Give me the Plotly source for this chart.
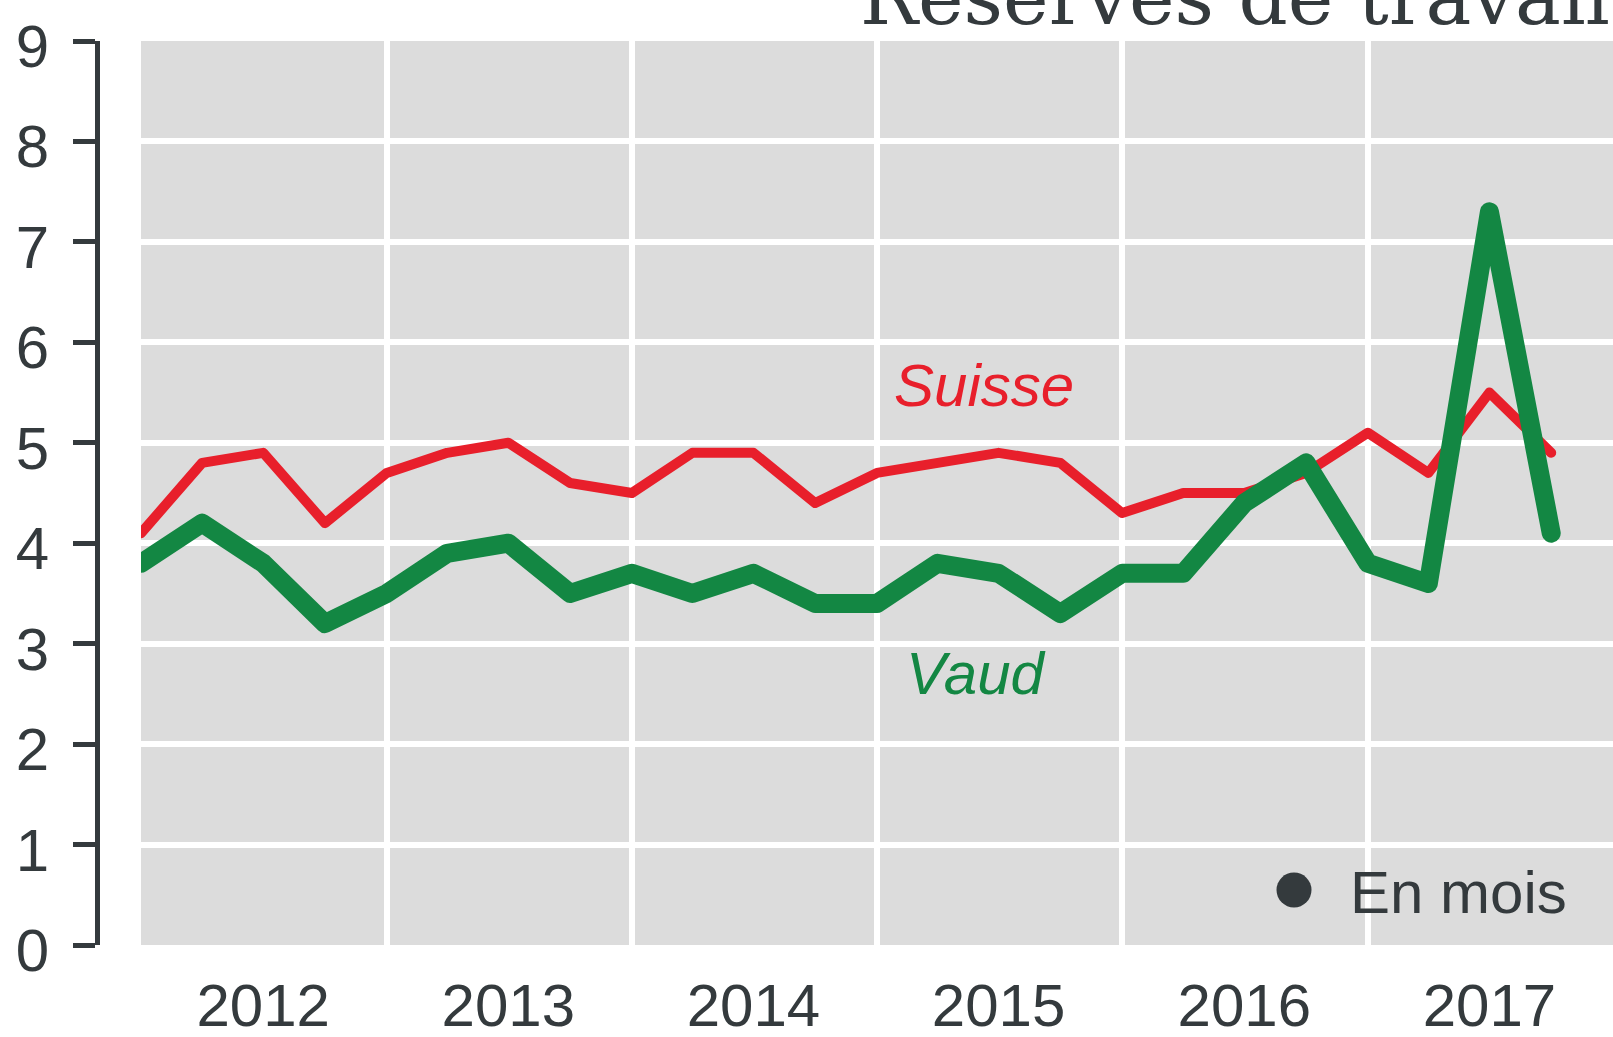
import plotly.graph_objects as go

# ---- data ----
quarters = [f"{y}-{m:02d}-01" for y in range(2012, 2018) for m in (1, 4, 7, 10)]
suisse = [4.1, 4.8, 4.9, 4.2, 4.7, 4.9, 5.0, 4.6, 4.5, 4.9, 4.9, 4.4,
          4.7, 4.8, 4.9, 4.8, 4.3, 4.5, 4.5, 4.7, 5.1, 4.7, 5.5, 4.9]
vaud = [3.8, 4.2, 3.8, 3.2, 3.5, 3.9, 4.0, 3.5, 3.7, 3.5, 3.7, 3.4,
        3.4, 3.8, 3.7, 3.3, 3.7, 3.7, 4.4, 4.8, 3.8, 3.6, 7.3, 4.1]
year_labels = ["2012", "2013", "2014", "2015", "2016", "2017"]
year_mid = [f"{y}-07-01" for y in year_labels]
year_bounds = [f"{y}-01-01" for y in ["2013", "2014", "2015", "2016", "2017"]]
y_ticks = list(range(0, 10))

W, H = 1613, 1037
ML, MR, MT, MB = 0, 0, 41, 92
PLOT_LEFT = 141
AXIS_X = 97
DARK = "#343a3d"
RED = "#e81f2b"
GREEN = "#138743"
PH = H - MT - MB

def px_x(p):
    return p / W

def px_y(p):
    return (H - MB - p) / PH

fig = go.Figure()
fig.add_trace(go.Scatter(x=quarters, y=suisse, mode="lines",
                         line=dict(color=RED, width=10), name="Suisse",
                         showlegend=False))
fig.add_trace(go.Scatter(x=quarters, y=vaud, mode="lines",
                         line=dict(color=GREEN, width=19), name="Vaud",
                         showlegend=False))

fig.update_layout(
    width=W, height=H,
    margin=dict(l=ML, r=MR, t=MT, b=MB, autoexpand=False),
    paper_bgcolor="white",
    plot_bgcolor="#dcdcdc",
    font=dict(family="Liberation Sans, Arial, sans-serif", color=DARK, size=60),
    xaxis=dict(
        type="date", automargin=False,
        domain=[px_x(PLOT_LEFT), 1],
        range=["2012-01-01", "2018-01-01"],
        tickmode="array", tickvals=year_mid, ticktext=year_labels,
        showgrid=False, showline=False, zeroline=False, ticks="",
        ticklabelstandoff=20,
        tickfont=dict(size=60, color=DARK),
        minor=dict(tickmode="array", tickvals=year_bounds, showgrid=True,
                   gridcolor="white", gridwidth=6, ticks=""),
    ),
    yaxis=dict(
        range=[0, 9], automargin=False,
        anchor="free", position=px_x(AXIS_X),
        tickmode="array", tickvals=y_ticks,
        showgrid=False, zeroline=False,
        showline=True, linecolor=DARK, linewidth=5,
        ticks="outside", ticklen=22, tickwidth=5, tickcolor=DARK,
        ticklabelstandoff=12, ticklabelshift=5,
        tickfont=dict(size=60, color=DARK),
        minor=dict(tickmode="array", tickvals=y_ticks[1:-1], showgrid=True,
                   gridcolor="white", gridwidth=6, ticks=""),
    ),
)

fig.add_annotation(x="2015-06-10", y=5.57, xref="x", yref="y", text="<i>Suisse</i>",
                   showarrow=False, font=dict(size=60, color=RED))
fig.add_annotation(x="2015-05-28", y=2.70, xref="x", yref="y", text="<i>Vaud</i>",
                   showarrow=False, font=dict(size=60, color=GREEN))
fig.add_annotation(x=px_x(1348), y=px_y(892), xref="paper", yref="paper",
                   text="En mois", showarrow=False, xanchor="left", yanchor="middle",
                   font=dict(size=60, color=DARK))
r = 17.5
fig.add_shape(type="circle", xref="paper", yref="paper",
              x0=px_x(1294 - r), x1=px_x(1294 + r), y0=px_y(890 + r), y1=px_y(890 - r),
              fillcolor=DARK, line=dict(width=0))
fig.add_annotation(x=px_x(858), y=px_y(44), xref="paper", yref="paper",
                   text="Réserves de travail", showarrow=False,
                   xanchor="left", yanchor="bottom",
                   font=dict(family="DejaVu Serif", size=77, color=DARK))

post = (
    "document.body.style.margin='0px';"
    "document.querySelectorAll('.js-line').forEach(function(p){"
    "p.style.strokeLinejoin='round';p.style.strokeLinecap='round';});"
)
fig.write_html("out.html", post_script=post,
               config={"displayModeBar": False, "staticPlot": True})
